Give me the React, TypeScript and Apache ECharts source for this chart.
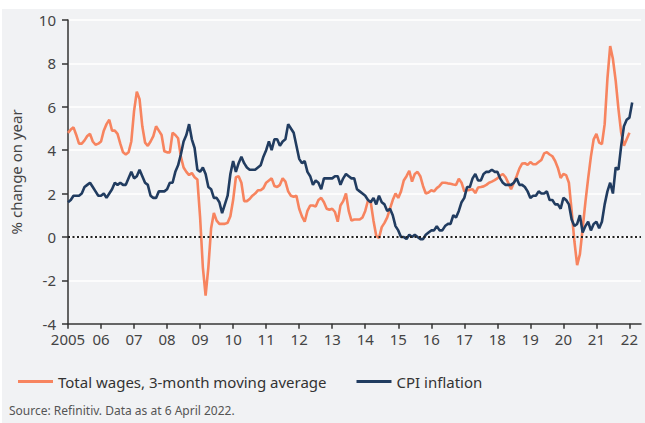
import React, { useEffect, useRef } from "react";
import * as echarts from "echarts";

// Monthly data, January 2005 onwards (% change on year)
const startYear = 2005;

const cpiInflation = [
  // 2005
  1.6, 1.7, 1.9, 1.9, 1.9, 2.0, 2.3, 2.4, 2.5, 2.3, 2.1, 1.9,
  // 2006
  1.9, 2.0, 1.8, 2.0, 2.2, 2.5, 2.4, 2.5, 2.4, 2.4, 2.7, 3.0,
  // 2007
  2.7, 2.8, 3.1, 2.8, 2.5, 2.4, 1.9, 1.8, 1.8, 2.1, 2.1, 2.1,
  // 2008
  2.2, 2.5, 2.5, 3.0, 3.3, 3.8, 4.4, 4.7, 5.2, 4.5, 4.1, 3.1,
  // 2009
  3.0, 3.2, 2.9, 2.3, 2.2, 1.8, 1.8, 1.6, 1.1, 1.5, 1.9, 2.9,
  // 2010
  3.5, 3.0, 3.4, 3.7, 3.4, 3.2, 3.1, 3.1, 3.1, 3.2, 3.3, 3.7,
  // 2011
  4.0, 4.4, 4.0, 4.5, 4.5, 4.2, 4.4, 4.5, 5.2, 5.0, 4.8, 4.2,
  // 2012
  3.6, 3.4, 3.5, 3.0, 2.8, 2.4, 2.6, 2.5, 2.2, 2.7, 2.7, 2.7,
  // 2013
  2.7, 2.8, 2.8, 2.4, 2.7, 2.9, 2.8, 2.7, 2.7, 2.2, 2.1, 2.0,
  // 2014
  1.9, 1.7, 1.6, 1.8, 1.5, 1.9, 1.6, 1.5, 1.2, 1.3, 1.0, 0.5,
  // 2015
  0.3, 0.0, 0.0, -0.1, 0.1, 0.0, 0.1, 0.0, -0.1, -0.1, 0.1, 0.2,
  // 2016
  0.3, 0.3, 0.5, 0.3, 0.3, 0.5, 0.6, 0.6, 1.0, 0.9, 1.2, 1.6,
  // 2017
  1.8, 2.3, 2.3, 2.7, 2.9, 2.6, 2.6, 2.9, 3.0, 3.0, 3.1, 3.0,
  // 2018
  3.0, 2.7, 2.5, 2.4, 2.4, 2.4, 2.5, 2.7, 2.4, 2.4, 2.3, 2.1,
  // 2019
  1.8, 1.9, 1.9, 2.1, 2.0, 2.0, 2.1, 1.7, 1.7, 1.5, 1.5, 1.3,
  // 2020
  1.8, 1.7, 1.5, 0.8, 0.5, 0.6, 1.0, 0.2, 0.5, 0.7, 0.3, 0.6,
  // 2021
  0.7, 0.4, 0.7, 1.5, 2.1, 2.5, 2.0, 3.2, 3.1, 4.2, 5.1, 5.4,
  // 2022
  5.5, 6.2,
];

const totalWages = [
  // 2005
  4.8, 4.95, 5.05, 4.7, 4.3, 4.3, 4.45, 4.65, 4.75, 4.4, 4.25, 4.3,
  // 2006
  4.4, 4.9, 5.2, 5.4, 4.9, 4.9, 4.75, 4.3, 3.9, 3.8, 3.9, 4.4,
  // 2007
  5.8, 6.7, 6.35, 5.1, 4.35, 4.2, 4.4, 4.65, 5.1, 4.9, 4.7, 3.95,
  // 2008
  3.9, 3.9, 4.8, 4.7, 4.55, 3.7, 3.2, 3.0, 2.85, 2.95, 2.75, 2.65,
  // 2009
  0.9, -1.4, -2.7, -1.4, 0.4, 1.1, 0.75, 0.6, 0.6, 0.6, 0.65, 0.95,
  // 2010
  1.7, 2.75, 2.8, 2.5, 1.65, 1.65, 1.75, 1.9, 2.0, 2.15, 2.15, 2.25,
  // 2011
  2.5, 2.6, 2.7, 2.35, 2.3, 2.4, 2.7, 2.55, 2.1, 1.9, 1.85, 1.9,
  // 2012
  1.3, 0.95, 0.7, 1.2, 1.45, 1.45, 1.4, 1.7, 1.8, 1.6, 1.3, 1.25,
  // 2013
  1.3, 1.15, 0.7, 1.45, 1.65, 2.0, 1.2, 0.75, 0.8, 0.8, 0.8, 0.9,
  // 2014
  1.2, 1.68, 1.6, 0.75, 0.05, -0.05, 0.45, 0.65, 0.9, 1.3, 1.7, 2.0,
  // 2015
  1.8, 2.1, 2.6, 2.8, 3.05, 2.55, 2.9, 3.0, 2.8, 2.35, 2.0, 2.05,
  // 2016
  2.15, 2.1, 2.25, 2.35, 2.5, 2.5, 2.47, 2.45, 2.42, 2.4, 2.68, 2.5,
  // 2017
  2.1, 2.15, 2.17, 2.2, 2.02, 2.28, 2.3, 2.33, 2.4, 2.5, 2.55, 2.62,
  // 2018
  2.7, 2.82, 2.9, 2.75, 2.48, 2.2, 2.5, 2.8, 3.15, 3.38, 3.4, 3.32,
  // 2019
  3.45, 3.35, 3.35, 3.45, 3.55, 3.85, 3.9, 3.8, 3.72, 3.5, 3.18, 2.72,
  // 2020
  2.9, 2.85, 2.5, 1.2, -0.2, -1.3, -0.8, 0.4, 1.6, 2.7, 3.7, 4.5,
  // 2021
  4.75, 4.35, 4.28, 5.2, 7.3, 8.8, 8.2, 7.2, 5.9, 4.8, 4.2, 4.5,
  // 2022
  4.8,
];

const tickYears = [
  2005, 2006, 2007, 2008, 2009, 2010, 2011, 2012, 2013, 2014, 2015, 2016,
  2017, 2018, 2019, 2020, 2021, 2022,
];
const tickLabels = [
  "2005", "06", "07", "08", "09", "10", "11", "12", "13", "14", "15", "16",
  "17", "18", "19", "20", "21", "22",
];

const wagesName = "Total wages, 3-month moving average";
const cpiName = "CPI inflation";
const yAxisTitle = "% change on year";
const sourceText = "Source: Refinitiv. Data as at 6 April 2022.";

const ORANGE = "#f7845f";
const NAVY = "#213c60";
const FONT = "Noto Sans";

function toPoints(values: number[]): [number, number][] {
  return values.map((v, i) => [startYear + i / 12, v]);
}

export default function App() {
  const ref = useRef<HTMLDivElement>(null);

  useEffect(() => {
    if (!ref.current) return;
    const chart = echarts.init(ref.current, undefined, { renderer: "svg" });
    const option: any = {
      animation: false,
      backgroundColor: "#ffffff",
      textStyle: { fontFamily: FONT },
      graphic: [
        {
          type: "rect",
          silent: true,
          z: -100,
          shape: { x: 2, y: 9, width: 643, height: 414 },
          style: { fill: "#f1f2f4" },
        },
        {
          type: "text",
          left: 9,
          top: 404,
          style: {
            text: sourceText,
            fill: "#555555",
            font: `12px "${FONT}"`,
          },
        },
      ],
      grid: { left: 63, right: 4, top: 20, bottom: 99.3, containLabel: false },
      legend: {
        left: 13,
        top: 369,
        icon: "rect",
        itemWidth: 35,
        itemHeight: 3,
        itemGap: 30,
        textStyle: { color: "#333333", fontSize: 15, fontFamily: FONT },
        data: [wagesName, cpiName],
      },
      xAxis: {
        type: "value",
        min: 2005,
        max: 2022.35,
        interval: 1,
        axisLine: { onZero: false, lineStyle: { color: "#333333", width: 1.5 } },
        axisTick: {
          show: true,
          customValues: tickYears,
          length: 5,
          lineStyle: { color: "#333333", width: 1.5 },
        },
        axisLabel: {
          customValues: tickYears,
          color: "#444444",
          fontSize: 15,
          margin: 8,
          formatter: (v: number) => {
            const i = tickYears.indexOf(Math.round(v));
            return i >= 0 ? tickLabels[i] : "";
          },
        },
        splitLine: { show: false },
      },
      yAxis: {
        type: "value",
        min: -4,
        max: 10,
        interval: 2,
        name: yAxisTitle,
        nameLocation: "middle",
        nameGap: 45,
        nameTextStyle: { color: "#444444", fontSize: 15, fontFamily: FONT },
        axisLine: { show: true, lineStyle: { color: "#333333", width: 1.5 } },
        axisTick: { show: true, length: 6, lineStyle: { color: "#333333", width: 1.5 } },
        axisLabel: { color: "#444444", fontSize: 15, margin: 12 },
        splitLine: { show: true, lineStyle: { color: "#ffffff", width: 1.5 } },
      },
      series: [
        {
          name: wagesName,
          type: "line",
          data: toPoints(totalWages),
          symbol: "none",
          lineStyle: { color: ORANGE, width: 2.6 },
          itemStyle: { color: ORANGE },
          markLine: {
            silent: true,
            symbol: ["none", "none"],
            label: { show: false },
            lineStyle: { color: "#222222", width: 2, type: [2, 2.5] },
            data: [{ yAxis: 0 }],
          },
        },
        {
          name: cpiName,
          type: "line",
          data: toPoints(cpiInflation),
          symbol: "none",
          lineStyle: { color: NAVY, width: 2.6 },
          itemStyle: { color: NAVY },
        },
      ],
    };
    chart.setOption(option);
    return () => chart.dispose();
  }, []);

  return (
    <div
      ref={ref}
      style={{ position: "absolute", left: 0, top: 0, width: 645, height: 423 }}
    />
  );
}
